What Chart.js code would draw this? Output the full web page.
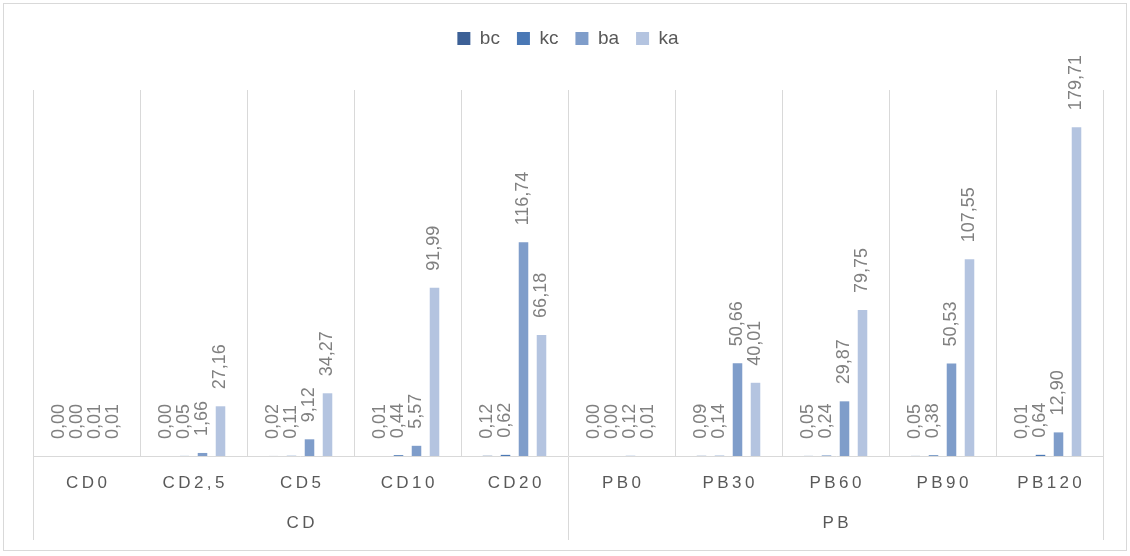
<!DOCTYPE html>
<html>
<head>
<meta charset="utf-8">
<script src="https://cdn.jsdelivr.net/npm/chart.js@4"></script>
<style>
  body { margin: 0; background: #fff; }
  #wrap { position: relative; width: 1130px; height: 556px; }
  #frame { position: absolute; left: 3px; top: 3px; width: 1122px; height: 546px; border: 1px solid #d9d9d9; pointer-events: none; }
</style>
</head>
<body>
<div id="wrap">
  <canvas id="barChart" width="1130" height="556"></canvas>
  <div id="frame"></div>
</div>
<script>
// categories and groups (two-level x axis)
const categories = ['CD0', 'CD2,5', 'CD5', 'CD10', 'CD20', 'PB0', 'PB30', 'PB60', 'PB90', 'PB120'];
const groups = ['CD', 'PB'];
const groupSize = 5;

// series values
const bc = [0.00, 0.00, 0.02, 0.01, 0.12, 0.00, 0.09, 0.05, 0.05, 0.01];
const kc = [0.00, 0.05, 0.11, 0.44, 0.62, 0.00, 0.14, 0.24, 0.38, 0.64];
const ba = [0.01, 1.66, 9.12, 5.57, 116.74, 0.12, 50.66, 29.87, 50.53, 12.90];
const ka = [0.01, 27.16, 34.27, 91.99, 66.18, 0.01, 40.01, 79.75, 107.55, 179.71];

// put the group name under the middle category of each group
const labels = categories.map((c, i) => {
    const mid = i % groupSize === Math.floor(groupSize / 2);
    return mid ? [c, groups[Math.floor(i / groupSize)]] : c;
});

const spaced = s => s.split('').join('\u2009');
const fmt = v => v.toFixed(2).replace('.', ',');

// rotated value labels above each bar
const barLabels = {
    id: 'barLabels',
    afterDatasetsDraw(chart) {
        const c = chart.ctx;
        c.save();
        c.font = '18px "Liberation Sans", Arial, sans-serif';
        c.fillStyle = '#808080';
        c.textAlign = 'left';
        c.textBaseline = 'middle';
        chart.data.datasets.forEach((ds, i) => {
            chart.getDatasetMeta(i).data.forEach((bar, j) => {
                c.save();
                c.translate(bar.x, bar.y - 17);
                c.rotate(-Math.PI / 2);
                c.fillText(fmt(ds.data[j]), 0, 0);
                c.restore();
            });
        });
        c.restore();
    }
};

// extra space below the legend
const legendGap = {
    id: 'legendGap',
    beforeInit(chart) {
        const fit = chart.legend.fit;
        chart.legend.fit = function () {
            fit.bind(chart.legend)();
            this.height += 32;
        };
    }
};

const ctx = document.getElementById('barChart').getContext('2d');
const chart = new Chart(ctx, {
    type: 'bar',
    data: {
        labels: labels,
        datasets: [
            { label: 'bc', data: bc, backgroundColor: '#3c6096' },
            { label: 'kc', data: kc, backgroundColor: '#4a78b5' },
            { label: 'ba', data: ba, backgroundColor: '#7f9dca' },
            { label: 'ka', data: ka, backgroundColor: '#b4c4e0' }
        ]
    },
    options: {
        responsive: false,
        animation: false,
        devicePixelRatio: 1,
        layout: { padding: { left: 33, right: 27, top: 12, bottom: 6 } },
        datasets: {
            bar: { categoryPercentage: 0.673, barPercentage: 0.53 }
        },
        plugins: {
            legend: {
                position: 'top',
                labels: {
                    boxWidth: 13,
                    boxHeight: 13,
                    padding: 17,
                    color: '#595959',
                    font: { family: '"Liberation Sans", Arial, sans-serif', size: 19 }
                }
            },
            tooltip: { enabled: false }
        },
        scales: {
            x: {
                afterFit: scale => { scale.height = 94; },
                grid: {
                    color: '#d9d9d9',
                    lineWidth: 1,
                    drawTicks: true,
                    tickLength: 84,
                    // only the group separators continue into the label area
                    tickColor: c => (c.index === undefined || c.index % groupSize === 0) ? '#d9d9d9' : 'rgba(0,0,0,0)'
                },
                border: { display: true, color: '#d9d9d9' },
                ticks: {
                    color: '#595959',
                    padding: -77,
                    maxRotation: 0,
                    autoSkip: false,
                    font: { family: '"Liberation Sans", Arial, sans-serif', size: 17, lineHeight: 2.35 },
                    callback: function (value) {
                        const lab = this.getLabelForValue(value);
                        return Array.isArray(lab) ? lab.map(spaced) : spaced(lab);
                    }
                }
            },
            y: {
                display: false,
                min: 0,
                max: 200
            }
        }
    },
    plugins: [barLabels, legendGap]
});
</script>
</body>
</html>
